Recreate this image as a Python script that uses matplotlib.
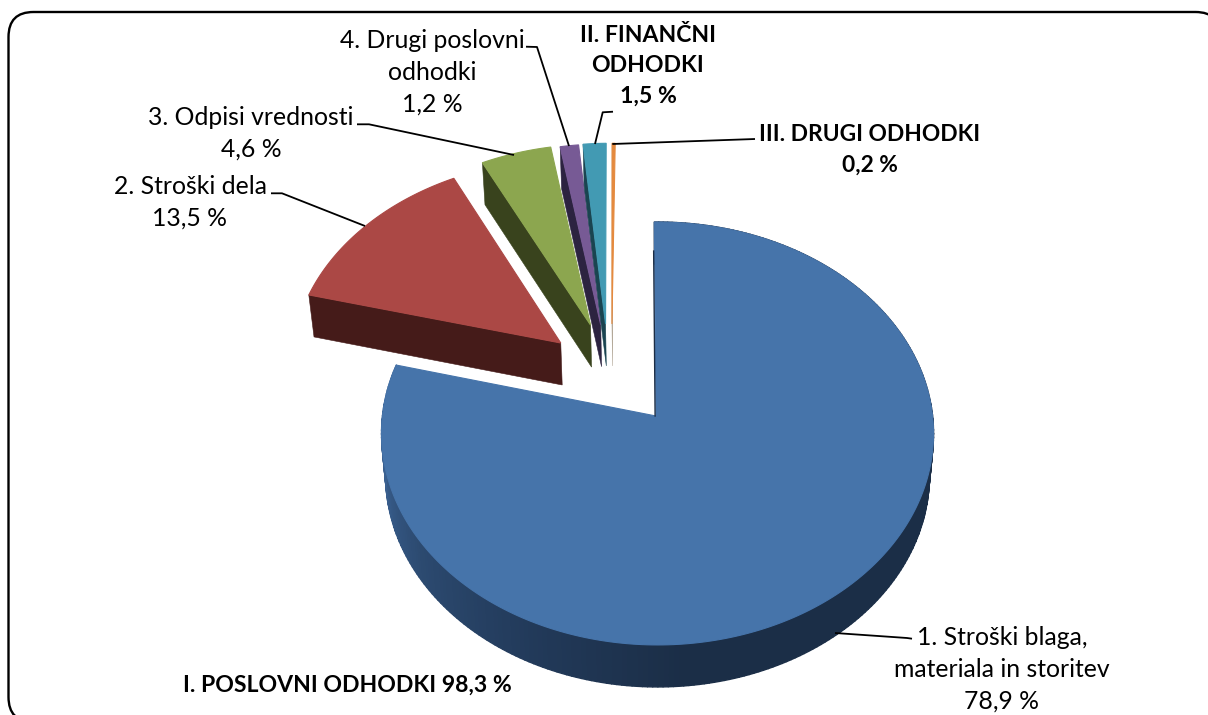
import numpy as np
import matplotlib
matplotlib.use("Agg")
import matplotlib.pyplot as plt
from matplotlib.patches import FancyBboxPatch, Polygon
from matplotlib.collections import PolyCollection
from matplotlib.colors import to_rgb

# ---- data ----
categories = ["1. Stroški blaga, materiala in storitev", "2. Stroški dela",
              "3. Odpisi vrednosti", "4. Drugi poslovni odhodki",
              "II. FINANČNI ODHODKI", "III. DRUGI ODHODKI"]
values = [78.9, 13.5, 4.6, 1.2, 1.5, 0.2]

# ---- style ----
top_colors = ["#4674aa", "#ab4845", "#8ca64f", "#775a95", "#429ab3", "#e58a3e"]
wall_colors = ["#1c2d45", "#451b19", "#39431d", "#2c2340", "#1a4450", "#b0a595"]
explode_u = [0.0, -0.354, -0.245, -0.207, -0.189, -0.165]
explode_v = [0.0, 0.358, 0.449, 0.451, 0.455, 0.455]

CX, AY, RX = 656.0, 416.0, 277.0
PA, PC = -175.6, 0.0827
DEPTH, SHRINK = 42.0, 0.985
MAIN_RIM_SHIFT = 0.0055
MAIN_START_TILT = -0.7
RIM_U_SCALE = 0.993


def project(u, v, low=False):
    u, v = np.asarray(u, float), np.asarray(v, float)
    d = 1 + PC * v
    x = CX + RX * u / d
    y = (AY + PA * v) / d
    if low:
        x = CX + (x - CX) * SHRINK
        y = y + DEPTH
    return x, y


def side_color(t):
    stops_t = [0, 175, 205, 235, 262, 285, 360]
    stops_c = ["#1b2e47", "#1b2e47", "#223a5a", "#2c4a70", "#3a6090", "#3a6090", "#3a6090"]
    rgb = np.array([to_rgb(c) for c in stops_c])
    return [np.interp(t, stops_t, rgb[:, i]) for i in range(3)]


fig = plt.figure(figsize=(12.08, 7.15), dpi=100)
ax = fig.add_axes([0, 0, 1, 1])
ax.set_xlim(0, 1208)
ax.set_ylim(715, 0)
ax.axis("off")
plt.rcParams["font.family"] = ["Lato", "DejaVu Sans"]

ax.add_patch(FancyBboxPatch((33.5, 37), 1162, 660,
                            boxstyle="round,pad=25,rounding_size=25",
                            fc="white", ec="black", lw=1.7, zorder=1))

frac = np.array(values) / sum(values)
edges = np.concatenate([[0], np.cumsum(frac)]) * 360

for i, val in enumerate(values):
    a0, a1 = edges[i], edges[i + 1]
    if i == 0:
        a0 += MAIN_START_TILT
    t = np.radians(np.linspace(a0, a1, max(int(a1 - a0), 6)))
    eu, ev = explode_u[i], explode_v[i]
    z = 3 + i
    shift = MAIN_RIM_SHIFT if i == 0 else 0.0
    rim_u, rim_v = RIM_U_SCALE * np.sin(t) + eu + shift, np.cos(t) + ev
    if i == 0:
        xt, yt = project(rim_u, rim_v)
        xb, yb = project(rim_u, rim_v, low=True)
        quads, cols = [], []
        for k in range(len(t) - 1):
            quads.append([(xt[k], yt[k]), (xt[k + 1], yt[k + 1]),
                          (xb[k + 1], yb[k + 1]), (xb[k], yb[k])])
            cols.append(side_color(np.degrees(t[k])))
        ax.add_collection(PolyCollection(quads, facecolors=cols, edgecolors=cols,
                                         linewidths=1.0, zorder=z))
    else:
        # cut wall facing the viewer
        xa, ya = project([rim_u[0], eu], [rim_v[0], ev])
        xl, yl = project([rim_u[0], eu], [rim_v[0], ev], low=True)
        ax.add_patch(Polygon(np.c_[np.r_[xa, xl[::-1]], np.r_[ya, yl[::-1]]],
                             fc=wall_colors[i], ec=wall_colors[i], lw=0.4, zorder=z))
    px, py = project(np.r_[eu, rim_u], np.r_[ev, rim_v])
    ax.add_patch(Polygon(np.c_[px, py], fc=top_colors[i], ec=top_colors[i],
                         lw=0.8, zorder=z + 0.5))
    if i == 0:
        lx, ly = project([0.84 * (rim_u[0]), 0], [0.84 * rim_v[0], 0])
        ax.plot(lx - 0.9, ly, color=wall_colors[0], lw=1.0, zorder=z + 0.6)

# ---- leader lines ----
leaders = [
    ([835, 907, 912], [633, 638, 638.7]),
    ([271, 282, 365], [193.3, 193.3, 226]),
    ([357, 369, 514], [124.3, 124.3, 155]),
    ([526, 537, 569], [46.7, 47, 146]),
    ([595, 602.7, 613], [144, 112.3, 111.7]),
    ([612.3, 755], [144, 139]),
]
for lx, ly in leaders:
    ax.plot(lx, ly, color="black", lw=1.3, zorder=12, solid_capstyle="butt")

# ---- labels ----
labels = [
    (1002, 669.5, "1. Stroški blaga,\nmateriala in storitev\n78,9 %", "normal", 17.8),
    (190, 202.5, "2. Stroški dela\n13,5 %", "normal", 17.8),
    (251, 133, "3. Odpisi vrednosti\n4,6 %", "normal", 17.8),
    (432, 72, "4. Drugi poslovni\nodhodki\n1,2 %", "normal", 17.8),
    (648, 65.5, "II. FINANČNI\nODHODKI\n1,5 %", "bold", 16.6),
    (870, 150, "III. DRUGI ODHODKI\n0,2 %", "bold", 16.4),
    (347, 685, "I. POSLOVNI ODHODKI 98,3 %", "bold", 16.6),
]
for x, y, s, w, fs in labels:
    ax.text(x, y, s, ha="center", va="center", fontsize=fs, fontweight=w,
            linespacing=1.43 * 16.6 / fs * 1.09, color="black", zorder=13)

fig.savefig("out.png", dpi=100)
